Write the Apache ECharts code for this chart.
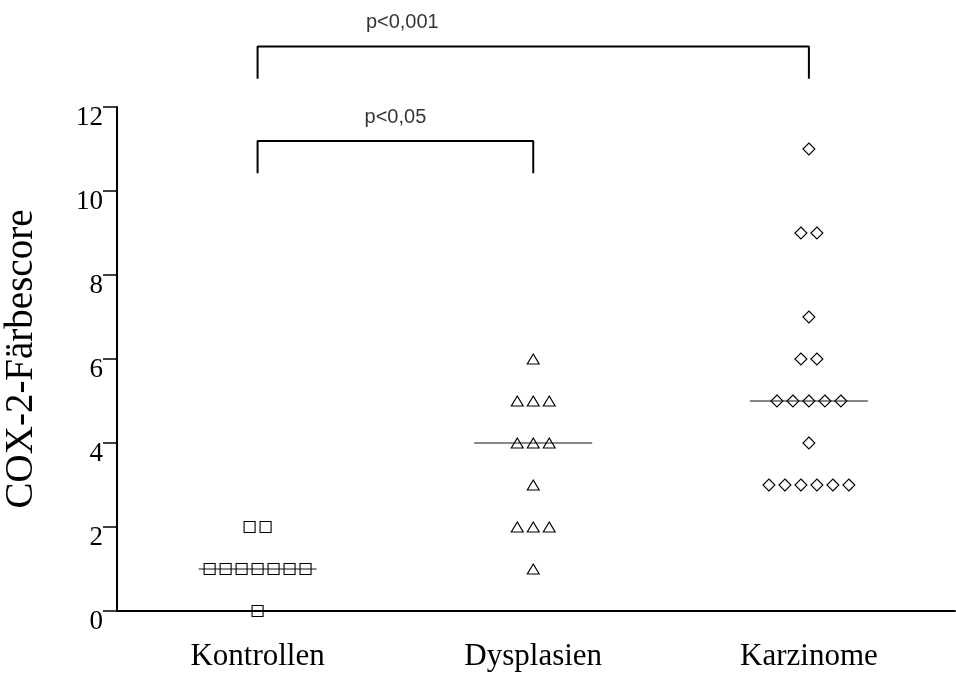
<!DOCTYPE html>
<html><head><meta charset="utf-8">
<script src="https://cdn.jsdelivr.net/npm/echarts@6/dist/echarts.min.js"></script>
<style>html,body{margin:0;padding:0;background:#fff}#c{width:956px;height:677px}</style>
</head><body><div id="c"></div>
<script>
const categories = ['Kontrollen', 'Dysplasien', 'Karzinome'];
const kontrollen = [2, 2, 1, 1, 1, 1, 1, 1, 1, 0];
const dysplasien = [6, 5, 5, 5, 4, 4, 4, 3, 2, 2, 2, 1];
const karzinome = [11, 9, 9, 7, 6, 6, 5, 5, 5, 5, 5, 4, 3, 3, 3, 3, 3, 3];
const yTicks = [0, 2, 4, 6, 8, 10, 12];
const yTitle = 'COX-2-Färbescore';
const comparisons = [
  { from: 0, to: 1, label: 'p<0,05' },
  { from: 0, to: 2, label: 'p<0,001' }
];

const groups = [kontrollen, dysplasien, karzinome];
const symbols = ['rect', 'triangle', 'diamond'];
const symbolSizes = [[11, 11], [12, 10], [12, 12]];
const DX = 0.058;          // horizontal spacing of equal values (axis units)
const HALF_MEDIAN = 0.214; // half-width of median line (axis units)

function jitter(values, gi) {
  const counts = {};
  values.forEach(v => { counts[v] = (counts[v] || 0) + 1; });
  const seen = {};
  return values.map(v => {
    seen[v] = seen[v] === undefined ? 0 : seen[v] + 1;
    return [gi + (seen[v] - (counts[v] - 1) / 2) * DX, v];
  });
}
function median(a) {
  const s = [...a].sort((x, y) => x - y), n = s.length;
  return n % 2 ? s[(n - 1) / 2] : (s[n / 2 - 1] + s[n / 2]) / 2;
}

const series = [];
groups.forEach((vals, gi) => {
  const m = median(vals);
  series.push({
    type: 'line', silent: true, symbol: 'none', z: 1,
    lineStyle: { color: '#111', width: 1 },
    data: [[gi - HALF_MEDIAN, m], [gi + HALF_MEDIAN, m]]
  });
  series.push({
    type: 'scatter', name: categories[gi], symbol: symbols[gi], symbolSize: symbolSizes[gi], z: 3,
    itemStyle: { color: 'rgba(0,0,0,0)', borderColor: '#000', borderWidth: 1.1, opacity: 1 },
    data: jitter(vals, gi)
  });
});

comparisons.forEach((c, i) => {
  const top = 11.19 + i * 2.25, leg = top - 0.77;
  series.push({
    type: 'line', silent: true, symbol: 'none', clip: false, z: 2,
    lineStyle: { color: '#000', width: 2 },
    data: [[c.from, leg], [c.from, top], [c.to, top], [c.to, leg]]
  });
  series.push({
    type: 'scatter', silent: true, clip: false, symbolSize: 1,
    itemStyle: { color: 'rgba(0,0,0,0)' },
    label: { show: true, position: 'inside', formatter: c.label, color: '#000',
             textBorderWidth: 0, fontFamily: 'Liberation Sans', fontSize: 20 },
    data: [[c.from + 0.5 + i * 0.025, top + 0.57]]
  });
});

const chart = echarts.init(document.getElementById('c'));
chart.setOption({
  animation: false,
  backgroundColor: '#fff',
  grid: { left: 117, right: 1, top: 107, bottom: 66, containLabel: false, outerBoundsMode: 'none' },
  xAxis: {
    type: 'value', min: -0.51, max: 2.53,
    axisLine: { onZero: false, lineStyle: { color: '#000', width: 2 } },
    axisTick: { show: false },
    splitLine: { show: false },
    axisLabel: {
      customValues: [0, 1, 2], margin: 30,
      formatter: v => categories[Math.round(v)] || '',
      color: '#000', fontFamily: 'Liberation Serif', fontSize: 31
    }
  },
  yAxis: {
    type: 'value', min: 0, max: 12, interval: 2,
    name: yTitle, nameLocation: 'middle', nameRotate: 90, nameGap: 76,
    nameTextStyle: { color: '#000', fontFamily: 'Liberation Serif', fontSize: 39 },
    axisLine: { onZero: false, lineStyle: { color: '#000', width: 2 } },
    axisTick: { customValues: yTicks, length: 14, lineStyle: { color: '#000', width: 1.5 } },
    splitLine: { show: false },
    axisLabel: {
      customValues: yTicks, margin: 14, verticalAlign: 'top', lineHeight: 22,
      color: '#000', fontFamily: 'Liberation Serif', fontSize: 27
    }
  },
  series: series
});
</script></body></html>
